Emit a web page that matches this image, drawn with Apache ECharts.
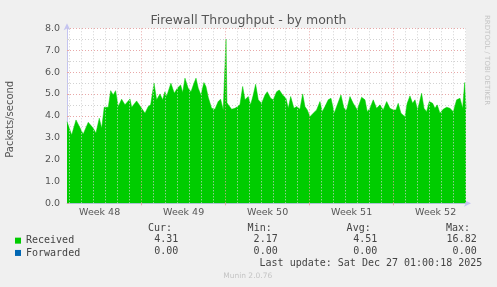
<!DOCTYPE html>
<html>
<head>
<meta charset="utf-8">
<script src="https://cdn.jsdelivr.net/npm/echarts@6/dist/echarts.min.js"></script>
<style>
html,body{margin:0;padding:0;background:#f0f0f0;}
#c{width:497px;height:287px;}
</style>
</head>
<body>
<div id="c"></div>
<script>
// Time in days since Mon 24 Nov 2025 00:00 (start of Week 48)
const dayOffsets = [
0.78,1.17,1.53,1.86,2.13,2.55,2.97,3.19,3.47,3.67,3.88,4.22,4.42,4.63,4.83,5.05,5.33,5.61,6.03,6.17,6.58,
7.00,7.28,7.55,7.75,8.03,8.25,8.53,8.75,8.94,9.08,9.44,9.72,9.97,10.25,10.42,10.61,10.88,11.11,11.36,11.53,11.72,11.94,12.19,12.36,12.55,12.83,13.11,13.38,13.58,13.80,13.94,14.03,14.11,
14.22,14.50,14.78,15.19,15.42,15.61,15.88,16.08,16.30,16.50,16.72,17.00,17.28,17.47,17.75,17.97,18.25,18.47,18.75,19.03,19.22,19.42,19.69,19.92,20.19,20.42,20.61,20.80,
21.03,21.30,21.58,21.86,22.05,22.28,22.55,22.78,23.05,23.25,23.61,23.86,24.08,24.36,24.63,24.97,25.33,25.61,25.80,26.03,26.30,26.58,26.86,27.13,27.42,27.69,27.97,
28.19,28.38,28.61,28.94,29.13,29.36,29.58,29.78,30.00,30.33,30.53,30.75,30.97,31.25,31.44,31.63,31.86,32.13,32.42,32.69,32.97,33.25,33.53,33.75,33.92,34.03
];
const received = [
3.73,3.12,3.81,3.45,3.16,3.70,3.43,3.20,3.89,3.43,4.39,4.39,5.15,4.95,5.15,4.42,4.76,4.50,4.77,4.39,4.68,
4.34,4.12,4.42,4.50,5.49,4.73,5.00,4.73,5.10,4.88,5.49,5.03,5.26,5.41,5.06,5.72,5.26,5.10,5.49,5.72,5.26,4.95,5.52,5.34,4.85,4.34,4.30,4.65,4.76,4.27,4.30,7.50,4.60,
4.50,4.30,4.34,4.50,5.34,4.73,4.88,4.50,4.95,5.44,4.73,4.57,4.95,5.10,4.80,4.73,5.10,5.18,4.95,4.80,4.34,4.88,4.34,4.42,4.30,5.00,4.42,4.27,
3.96,4.12,4.27,4.65,4.19,4.42,4.73,4.80,4.12,4.42,4.95,4.34,4.27,4.88,4.57,4.27,4.85,4.73,4.19,4.34,4.73,4.34,4.50,4.27,4.65,4.34,4.27,
4.27,4.57,4.12,3.96,4.57,4.91,4.57,4.73,4.27,5.03,4.34,4.19,4.65,4.57,4.34,4.50,4.12,4.30,4.39,4.34,4.19,4.73,4.80,4.34,5.52,4.31
];
const weekLabels = ['Week 48','Week 49','Week 50','Week 51','Week 52'];
const weekCenters = [3.5,10.5,17.5,24.5,31.5];
const weekBoundaries = [7,14,21,28];
const statHeaders = ['Cur:','Min:','Avg:','Max:'];
const receivedStats = ['4.31','2.17','4.51','16.82'];
const forwardedStats = ['0.00','0.00','0.00','0.00'];
const seriesNames = ['Received','Forwarded'];
const seriesColors = ['#00cc00','#0066b3'];
const titleText = 'Firewall Throughput - by month';
const yName = 'Packets/second';
const lastUpdate = 'Last update: Sat Dec 27 01:00:18 2025';
const footer = 'Munin 2.0.76';
const sideText = 'RRDTOOL / TOBI OETIKER';

const xMin = 0.78, xMax = 34.03;
const MONO = 'DejaVu Sans Mono';
const SANS = 'DejaVu Sans';
const RED = '#e8a8a8', GREY = '#d2d2d2', AXIS = '#c4c4f0';

const chart = echarts.init(document.getElementById('c'), null, {renderer:'canvas'});

const vLines = [];
for (let d = Math.ceil(xMin); d <= Math.floor(xMax); d++) {
  const major = weekBoundaries.indexOf(d) >= 0;
  vLines.push({xAxis: d, lineStyle: {color: major ? RED : GREY, type: [1,2], width: 1, opacity: 1}});
}

const headerRight = [172, 271.7, 370.7, 470];
const valueRight = [178.3, 277.7, 377.3, 476.7];
const graphics = [];
statHeaders.forEach((h,i)=>graphics.push({type:'text', x: headerRight[i], y: 228.3, style:{text:h, font:'10px '+MONO, fill:'#444', align:'right', verticalAlign:'middle'}}));
receivedStats.forEach((h,i)=>graphics.push({type:'text', x: valueRight[i], y: 239.5, style:{text:h, font:'10px '+MONO, fill:'#444', align:'right', verticalAlign:'middle'}}));
forwardedStats.forEach((h,i)=>graphics.push({type:'text', x: valueRight[i], y: 251.7, style:{text:h, font:'10px '+MONO, fill:'#444', align:'right', verticalAlign:'middle'}}));
graphics.push({type:'text', x: 482.3, y: 263.7, style:{text:lastUpdate, font:'10px '+MONO, fill:'#444', align:'right', verticalAlign:'middle'}});
graphics.push({type:'text', x: 247.7, y: 276, style:{text:footer, font:'7.5px '+SANS, fill:'#c4c4c4', align:'center', verticalAlign:'middle'}});
graphics.push({type:'text', x: 487, y: 15, rotation: -Math.PI/2, style:{text:sideText, font:'7px '+SANS, fill:'#c4c4c4', align:'left', verticalAlign:'middle'}});

const option = {
  backgroundColor: '#f0f0f0',
  animation: false,
  title: {text: titleText, left: 'center', top: 9, textStyle: {fontFamily: SANS, fontSize: 12.5, fontWeight: 'normal', color: '#555'}},
  legend: {
    data: seriesNames, orient: 'vertical', left: 10, top: 229.5, icon: 'rect', itemWidth: 6, itemHeight: 6, itemGap: 0,
    textStyle: {fontFamily: MONO, fontSize: 10, color: '#444', lineHeight: 12.3}, selectedMode: false
  },
  grid: {left: 67, right: 31, top: 28.3, bottom: 83.7, show: true, backgroundColor: '#ffffff', borderWidth: 0,
         containLabel: false, outerBoundsMode: 'none'},
  xAxis: {
    type: 'value', min: xMin, max: xMax,
    axisLine: {show: true, lineStyle: {color: AXIS, width: 1}, symbol: ['none','arrow'], symbolSize: [5,7], symbolOffset: [0,5]},
    splitLine: {show: false},
    axisTick: {show: true, customValues: weekBoundaries, length: 2, lineStyle: {color: RED}},
    axisLabel: {customValues: weekCenters, formatter: v => weekLabels[weekCenters.indexOf(v)], fontFamily: SANS, fontSize: 9.5, color: '#555', margin: 4}
  },
  yAxis: {
    type: 'value', min: 0, max: 8, interval: 1,
    name: yName, nameLocation: 'middle', nameGap: 52, nameRotate: 90,
    nameTextStyle: {fontFamily: SANS, fontSize: 10, color: '#555', padding: [0, 7, 0, 0]},
    axisLine: {show: true, lineStyle: {color: AXIS, width: 1}, symbol: ['none','arrow'], symbolSize: [5,7], symbolOffset: [0,5]},
    axisTick: {show: true, inside: true, length: 2, lineStyle: {color: RED}},
    minorTick: {show: true, splitNumber: 2, length: 2, lineStyle: {color: GREY}},
    splitLine: {show: true, lineStyle: {color: RED, type: [1,2], width: 1}},
    minorSplitLine: {show: true, lineStyle: {color: GREY, type: [1,2], width: 1}},
    axisLabel: {formatter: v => v.toFixed(1), fontFamily: SANS, fontSize: 9.5, color: '#555', margin: 7}
  },
  series: [
    {type: 'line', name: '_grid', data: [], z: 1, silent: true, color: GREY,
     markLine: {silent: true, symbol: ['none','none'], label: {show: false}, animation: false,
                lineStyle: {color: GREY, type: [1,2], width: 1}, emphasis: {disabled: true}, data: vLines}},
    {type: 'line', name: seriesNames[0], z: 2, data: dayOffsets.map((d,i)=>[d, received[i]]),
     showSymbol: false, symbol: 'none', color: seriesColors[0],
     lineStyle: {width: 0.5, color: seriesColors[0]}, areaStyle: {color: seriesColors[0], opacity: 1}},
    {type: 'line', name: seriesNames[1], z: 2, data: [], color: seriesColors[1], showSymbol: false}
  ],
  graphic: graphics
};
chart.setOption(option);
</script>
</body>
</html>
